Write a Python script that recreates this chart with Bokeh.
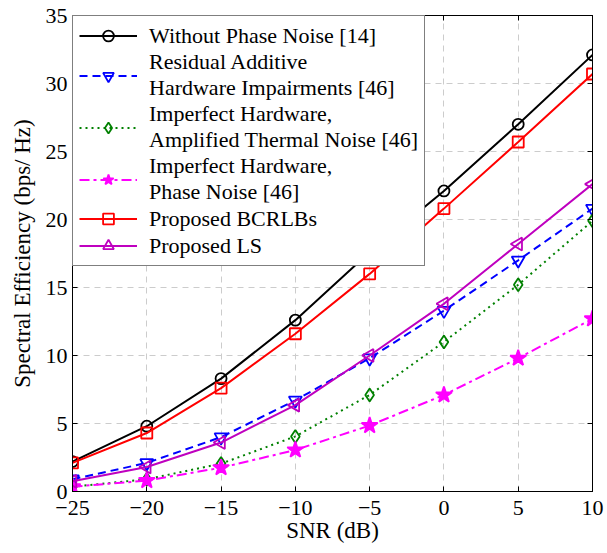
import numpy as np
from bokeh.plotting import figure
from bokeh.models import LinearAxis, Legend, LegendItem, FixedTicker
from bokeh.embed import file_html
from bokeh.resources import INLINE

# SNR grid (dB)
snr_db = [-25, -20, -15, -10, -5, 0, 5, 10]

# Spectral efficiency (bps/Hz) for each scheme
se_without_pn = [2.2, 4.8, 8.3, 12.6, 17.6, 22.1, 27.0, 32.1]
se_residual_hwi = [0.9, 2.1, 4.0, 6.7, 9.8, 13.3, 17.0, 20.8]
se_thermal_noise = [0.35, 0.9, 2.05, 4.05, 7.1, 11.0, 15.2, 19.9]
se_phase_noise = [0.35, 0.8, 1.75, 3.05, 4.85, 7.1, 9.8, 12.7]
se_bcrlb = [2.1, 4.3, 7.6, 11.6, 16.0, 20.8, 25.7, 30.7]
se_ls = [0.75, 1.8, 3.6, 6.35, 10.0, 13.8, 18.2, 22.6]

labels = [
    "Without Phase Noise [14]",
    "Residual Additive\nHardware Impairments [46]",
    "Imperfect Hardware,\nAmplified Thermal Noise [46]",
    "Imperfect Hardware,\nPhase Noise [46]",
    "Proposed BCRLBs",
    "Proposed LS",
]

x_ticks = [-25, -20, -15, -10, -5, 0, 5, 10]
y_ticks = [0, 5, 10, 15, 20, 25, 30, 35]

FONT = "Liberation Serif"

p = figure(
    frame_width=520, frame_height=476,
    x_range=(-25, 10), y_range=(0, 35),
    output_backend="svg", toolbar_location=None,
    min_border_left=72, min_border_right=15,
    min_border_top=15, min_border_bottom=62,
)
p.background_fill_color = "white"
p.border_fill_color = "white"
p.outline_line_color = "black"
p.outline_line_width = 1

# axes styling
for ax in (p.xaxis[0], p.yaxis[0]):
    ax.major_label_text_font = FONT
    ax.major_label_text_font_size = "22px"
    ax.major_label_text_color = "black"
    ax.axis_label_text_font = FONT
    ax.axis_label_text_font_size = "23px"
    ax.axis_label_text_font_style = "normal"
    ax.axis_label_text_color = "black"
    ax.major_tick_in = 5
    ax.major_tick_out = 0
    ax.minor_tick_line_color = None
    ax.axis_line_color = "black"
    ax.major_tick_line_color = "black"

p.xaxis[0].ticker = FixedTicker(ticks=x_ticks)
p.yaxis[0].ticker = FixedTicker(ticks=y_ticks)
p.xaxis[0].axis_label = "SNR (dB)"
p.yaxis[0].axis_label = "Spectral Efficiency (bps/ Hz)"
p.xaxis[0].major_label_standoff = 9
p.yaxis[0].major_label_standoff = 5
p.xaxis[0].axis_label_standoff = 0
p.yaxis[0].axis_label_standoff = 8

# mirrored tick marks on the top and right edges (no labels)
top_ax = LinearAxis(ticker=FixedTicker(ticks=x_ticks),
                    major_label_overrides={t: "" for t in x_ticks})
right_ax = LinearAxis(ticker=FixedTicker(ticks=y_ticks),
                      major_label_overrides={t: "" for t in y_ticks})
for ax in (top_ax, right_ax):
    ax.major_label_standoff = 0
    ax.major_tick_in = 5
    ax.major_tick_out = 0
    ax.minor_tick_line_color = None
    ax.axis_line_color = "black"
p.add_layout(top_ax, "above")
p.add_layout(right_ax, "right")

# grid
p.grid.grid_line_color = "#cccccc"
p.grid.grid_line_dash = "6 5"
p.grid.grid_line_width = 1

LW = 2
items = []

def add_series(y, color, dash, marker, size, label, angle=0.0, fill=None):
    r1 = p.line(snr_db, y, line_color=color, line_width=LW, line_dash=dash)
    r2 = p.scatter(snr_db, y, marker=marker, size=size, angle=angle,
                   line_color=color, line_width=1.8,
                   fill_color=fill if fill else None)
    items.append(LegendItem(label=label, renderers=[r1, r2]))

add_series(se_without_pn, "black", "solid", "circle", 11, labels[0])
add_series(se_residual_hwi, "#0000ff", "8 5", "inverted_triangle", 13, labels[1])
add_series(se_thermal_noise, "#008000", "2 4", "diamond", 13, labels[2])
add_series(se_phase_noise, "#ff00ff", "10 4 3 4", "star", 17, labels[3], fill="#ff00ff")
add_series(se_bcrlb, "#ff0000", "solid", "square", 11, labels[4])
add_series(se_ls, "#bf00bf", "solid", "triangle", 13, labels[5], angle=np.pi / 2)

legend = Legend(items=items, location="top_left")
legend.label_text_font = FONT
legend.label_text_font_size = "22px"
legend.label_text_color = "black"
legend.glyph_width = 58
legend.glyph_height = 27
legend.label_standoff = 12
legend.padding = 6
legend.spacing = 0
legend.margin = 0
legend.border_line_color = "black"
legend.border_line_width = 1
legend.background_fill_alpha = 1
p.add_layout(legend)

open("out.html", "w").write(file_html(p, INLINE))
